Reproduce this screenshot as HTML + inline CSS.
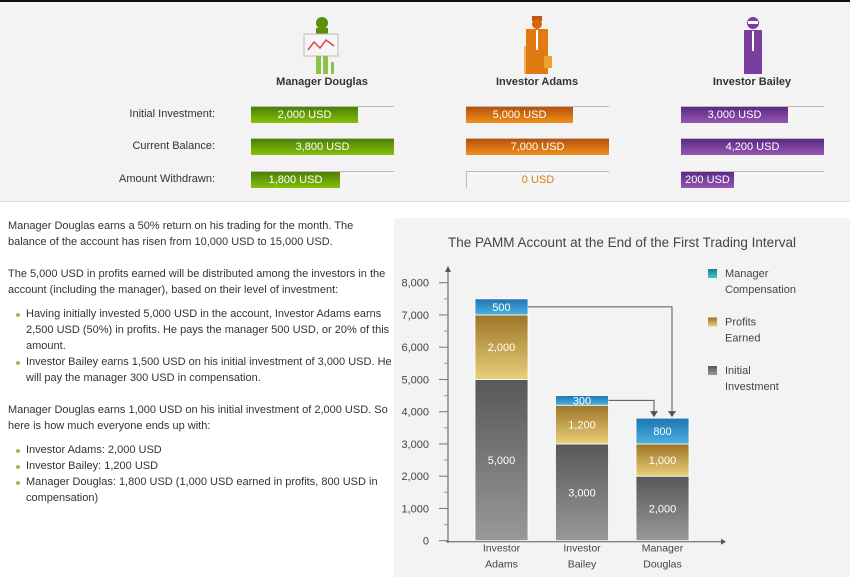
<!DOCTYPE html>
<html><head><meta charset="utf-8"><style>
*{margin:0;padding:0;box-sizing:border-box}
body{width:850px;height:577px;background:#fff;font-family:"Liberation Sans",Arial,sans-serif;color:#333;position:relative;overflow:hidden}
#top{position:absolute;left:0;top:0;width:850px;height:202px;background:#f2f3f2;border-top:2px solid #111;border-bottom:1px solid #ddd}
.abs{position:absolute}
.name{font-weight:bold;font-size:11px;color:#333;width:160px;text-align:center}
.lbl{font-size:11px;width:215px;text-align:right;left:0;color:#333}
.track{position:absolute;height:17px;border-top:1px solid #bbb;background:#f5f5f5}
.bar{position:absolute;left:0;top:0;height:16px;color:#fff;font-size:11px;line-height:16px;text-align:center}
.g{background:linear-gradient(#4d7f05,#86c10a)}
.o{background:linear-gradient(#b8500a,#f0901c)}
.p{background:linear-gradient(#5a2a86,#9557b0)}
#text{position:absolute;left:8px;top:218px;width:385px;font-size:11px;line-height:16px;color:#333}
#text p{margin-bottom:16px}
#text ul{list-style:none;margin:-8px 0 16px 0}
#text li{padding-left:18px;position:relative}
#text li:before{content:"";position:absolute;left:8px;top:7px;width:4px;height:4px;border-radius:2px;background:#8bc34a}
#chartbox{position:absolute;left:394px;top:218px;width:456px;height:359px;background:#f2f3f2}
</style></head><body>
<div id="top">
  <svg class="abs" style="left:302px;top:14px" width="42" height="58">
    <circle cx="20" cy="7" r="6" fill="#5a8f0a"/><rect x="14" y="12" width="12" height="20" fill="#5a8f0a"/>
    <rect x="2" y="18" width="34" height="22" fill="#f5f5f5" stroke="#bbb"/>
    <polyline points="6,34 12,26 18,32 24,24 32,30" fill="none" stroke="#d44" stroke-width="1.5"/>
    <rect x="14" y="40" width="5" height="18" fill="#8bc34a"/><rect x="21" y="40" width="5" height="18" fill="#8bc34a"/><rect x="29" y="46" width="3" height="12" fill="#8bc34a"/>
  </svg>
  <svg class="abs" style="left:520px;top:14px" width="34" height="58">
    <rect x="12" y="0" width="10" height="5" fill="#c0560a"/><circle cx="17" cy="8" r="5" fill="#d8650f"/>
    <rect x="6" y="13" width="22" height="45" fill="#e07a12"/><rect x="16" y="14" width="2" height="20" fill="#fff"/>
    <rect x="4" y="30" width="2" height="28" fill="#f0b060"/><rect x="24" y="40" width="8" height="12" fill="#f0a030"/>
  </svg>
  <svg class="abs" style="left:740px;top:14px" width="26" height="58">
    <circle cx="13" cy="7" r="6" fill="#7b3e9e"/><rect x="8" y="5" width="10" height="3" fill="#fff"/>
    <rect x="4" y="14" width="18" height="44" fill="#7b3e9e"/><rect x="12" y="15" width="2" height="20" fill="#fff"/>
  </svg>
  <div class="abs name" style="left:242px;top:74px">Manager Douglas</div>
  <div class="abs name" style="left:457px;top:74px">Investor Adams</div>
  <div class="abs name" style="left:672px;top:74px">Investor Bailey</div>
  <div class="abs lbl" style="top:106px">Initial Investment:</div>
  <div class="abs lbl" style="top:138px">Current Balance:</div>
  <div class="abs lbl" style="top:171px">Amount Withdrawn:</div>

  <div class="track" style="left:251px;top:104px;width:143px"><div class="bar g" style="width:107px">2,000 USD</div></div>
  <div class="track" style="left:251px;top:136px;width:143px"><div class="bar g" style="width:143px">3,800 USD</div></div>
  <div class="track" style="left:251px;top:169px;width:143px"><div class="bar g" style="width:89px">1,800 USD</div></div>

  <div class="track" style="left:466px;top:104px;width:143px"><div class="bar o" style="width:107px">5,000 USD</div></div>
  <div class="track" style="left:466px;top:136px;width:143px"><div class="bar o" style="width:143px">7,000 USD</div></div>
  <div class="track" style="left:466px;top:169px;width:143px;border-left:1px solid #bbb"><div class="bar" style="width:142px;color:#e07a12">0 USD</div></div>

  <div class="track" style="left:681px;top:104px;width:143px"><div class="bar p" style="width:107px">3,000 USD</div></div>
  <div class="track" style="left:681px;top:136px;width:143px"><div class="bar p" style="width:143px">4,200 USD</div></div>
  <div class="track" style="left:681px;top:169px;width:143px"><div class="bar p" style="width:53px">200 USD</div></div>
</div>

<div id="text">
<p>Manager Douglas earns a 50% return on his trading for the month. The balance of the account has risen from 10,000 USD to 15,000 USD.</p>
<p>The 5,000 USD in profits earned will be distributed among the investors in the account (including the manager), based on their level of investment:</p>
<ul>
<li>Having initially invested 5,000 USD in the account, Investor Adams earns 2,500 USD (50%) in profits. He pays the manager 500 USD, or 20% of this amount.</li>
<li>Investor Bailey earns 1,500 USD on his initial investment of 3,000 USD. He will pay the manager 300 USD in compensation.</li>
</ul>
<p>Manager Douglas earns 1,000 USD on his initial investment of 2,000 USD. So here is how much everyone ends up with:</p>
<ul>
<li>Investor Adams: 2,000 USD</li>
<li>Investor Bailey: 1,200 USD</li>
<li>Manager Douglas: 1,800 USD (1,000 USD earned in profits, 800 USD in compensation)</li>
</ul>
</div>

<div id="chartbox">
<svg id="chart" width="456" height="359">
<defs>
<linearGradient id="gGray" x1="0" y1="0" x2="0" y2="1"><stop offset="0" stop-color="#585858"/><stop offset="1" stop-color="#999"/></linearGradient>
<linearGradient id="gGold" x1="0" y1="0" x2="0" y2="1"><stop offset="0" stop-color="#9e7428"/><stop offset="1" stop-color="#e8d07a"/></linearGradient>
<linearGradient id="gBlue" x1="0" y1="0" x2="0" y2="1"><stop offset="0" stop-color="#1f74b0"/><stop offset="1" stop-color="#4ab2e0"/></linearGradient>
<linearGradient id="gTeal" x1="0" y1="0" x2="0" y2="1"><stop offset="0" stop-color="#17808e"/><stop offset="1" stop-color="#4cc0cc"/></linearGradient>
</defs>
</svg>
</div>

<script>
const categories = [["Investor","Adams"],["Investor","Bailey"],["Manager","Douglas"]];
const initialInvestment = [5000, 3000, 2000];
const profitsEarned = [2000, 1200, 1000];
const managerComp = [500, 300, 800];
const yTicks = [0,1000,2000,3000,4000,5000,6000,7000,8000];

const NS = "http://www.w3.org/2000/svg";
const svg = document.getElementById('chart');
const X0 = 54, Y0 = 322.7, PX = 32.25/1000;
const y = v => Y0 - v*PX;
const barX = i => 81 + i*80.5;
const BW = 53;
function mk(tag, attrs, parent){const e=document.createElementNS(NS,tag);for(const k in attrs)e.setAttribute(k,attrs[k]);(parent||svg).appendChild(e);return e;}
function txt(x,yy,s,attrs){const e=mk('text',Object.assign({x:x,y:yy},attrs));e.textContent=s;return e;}

const title = txt(228,29,"The PAMM Account at the End of the First Trading Interval",{'text-anchor':'middle','font-size':'13.5','fill':'#444','font-family':'Liberation Sans, sans-serif'});



const ya = mk('line',{x1:X0,y1:Y0+2,x2:X0,y2:52,stroke:'#555','stroke-width':1});


mk('polygon',{points:`${X0-3},54 ${X0+3},54 ${X0},48`,fill:'#555'});
const xa = mk('line',{x1:X0-2,y1:Y0+1,x2:327,y2:Y0+1,stroke:'#555','stroke-width':1});


mk('polygon',{points:`327,${Y0-2} 327,${Y0+4} 332,${Y0+1}`,fill:'#555'});

yTicks.forEach((v,i)=>{
  mk('line',{x1:X0-9,y1:y(v),x2:X0,y2:y(v),stroke:'#777'});
  if(i<yTicks.length-1) mk('line',{x1:X0-4,y1:y(v+500),x2:X0,y2:y(v+500),stroke:'#999'});
  const t = txt(35,y(v)+4,v.toLocaleString('en-US'),{'text-anchor':'end','font-size':'11','fill':'#444'});
  
  
});

const segs = [[initialInvestment,'url(#gGray)','initial'],[profitsEarned,'url(#gGold)','profit'],[managerComp,'url(#gBlue)','comp']];
const tops = [];
categories.forEach((c,i)=>{
  let base = 0;
  segs.forEach(([arr,fill,nm])=>{
    const v = arr[i];
    const r = mk('rect',{x:barX(i),y:y(base+v),width:BW,height:v*PX,fill:fill,stroke:'#fff','stroke-width':0.8});
    
    
    const t = txt(barX(i)+BW/2,y(base+v/2)+4,v.toLocaleString('en-US'),{'text-anchor':'middle','font-size':'11','fill':'#fff'});
    
    
    base += v;
  });
  tops.push(base);
  c.forEach((w,j)=>{
    const t = txt(barX(i)+BW/2,Y0+11+j*16,w,{'text-anchor':'middle','font-size':'10.5','fill':'#444'});
    
    
  });
});

const mgr = 2, mgrTop = y(tops[mgr]);
[[0, 278],[1, 260]].forEach(([i,ax])=>{
  const sy = y(tops[i]-managerComp[i]/2);
  const p = mk('polyline',{points:`${barX(i)+BW},${sy} ${ax},${sy} ${ax},${mgrTop-5}`,fill:'none',stroke:'#555','stroke-width':1});
  
  
  mk('polygon',{points:`${ax-4},${mgrTop-7} ${ax+4},${mgrTop-7} ${ax},${mgrTop-1}`,fill:'#555'});
});

const legend = [['url(#gTeal)',['Manager','Compensation']],['url(#gGold)',['Profits','Earned']],['url(#gGray)',['Initial','Investment']]];
legend.forEach(([f,lines],k)=>{
  const ly = 51 + k*48.5;
  const r = mk('rect',{x:314,y:ly,width:9,height:9,fill:f});
  
  
  lines.forEach((l,j)=>{
    const t = txt(331,ly+8+j*16,l,{'font-size':'11','fill':'#444'});
    
    
  });
});
</script>
</body></html>
